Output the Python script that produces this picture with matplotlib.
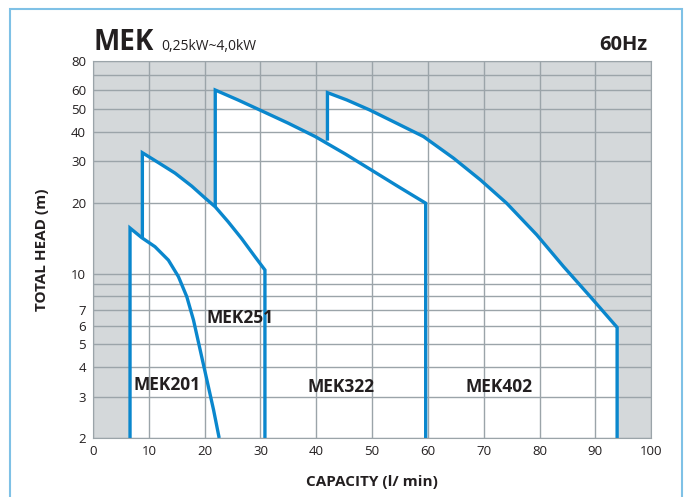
import matplotlib.pyplot as plt
from matplotlib.patches import Rectangle

plt.rcParams["font.family"] = ["Open Sans", "DejaVu Sans"]

# pump curves: capacity (l/min), head (m)
mek201_q = [6.63, 6.63, 8.73, 11.1, 13.5, 15.3, 16.8, 18.0, 19.2, 20.4, 21.6, 22.6]
mek201_h = [2.0, 15.6, 14.2, 13.0, 11.4, 9.7, 7.97, 6.34, 4.73, 3.53, 2.63, 2.0]

mek251_q = [8.84, 8.84, 11.7, 14.7, 17.7, 20.1, 21.9, 24.2, 26.6, 29.0, 30.8, 30.8]
mek251_h = [14.2, 32.6, 29.6, 26.7, 23.5, 20.9, 19.2, 16.6, 14.1, 11.8, 10.35, 2.0]

mek322_q = [21.9, 21.9, 26.0, 29.9, 35.0, 39.8, 45.2, 49.9, 54.7, 59.6, 59.6]
mek322_h = [19.2, 60.2, 54.6, 49.5, 43.5, 38.2, 32.2, 27.5, 23.4, 19.9, 2.0]

mek402_q = [42.0, 42.0, 45.5, 49.6, 54.4, 59.2, 64.6, 69.4, 74.1, 79.5, 84.3,
            89.1, 93.9, 93.9]
mek402_h = [36.7, 58.7, 54.6, 49.5, 43.5, 38.2, 30.9, 25.0, 19.9, 14.6, 10.7,
            7.97, 5.9, 2.0]

models = ["MEK201", "MEK251", "MEK322", "MEK402"]
curves = [(mek201_q, mek201_h), (mek251_q, mek251_h),
          (mek322_q, mek322_h), (mek402_q, mek402_h)]

x_ticks = list(range(0, 101, 10))
y_ticks = [2, 3, 4, 5, 6, 7, 10, 20, 30, 40, 50, 60, 80]
y_grid = [2, 3, 4, 5, 6, 7, 8, 9, 10, 20, 30, 40, 50, 60, 70, 80]

blue = "#0a87cd"
grid_col = "#9ba4a9"
grey = "#d4d8da"
ink = "#231f20"

fig = plt.figure(figsize=(6.84, 4.97), dpi=100)
ax = fig.add_axes([0.136, 0.1187, 0.816, 0.7586])
ax.set_facecolor(grey)
ax.set_yscale("log")
ax.set_xlim(0, 100)
ax.set_ylim(2, 80)

# white area under each curve
for q, h in curves:
    fq = [q[0]] + q[1:] + [q[-1]]
    fh = [2.0] + h[1:] + [2.0]
    ax.fill(fq, fh, color="white", zorder=1, lw=0)

# grid
for y in y_grid:
    ax.axhline(y, color=grid_col, lw=1, zorder=2)
for x in x_ticks:
    ax.axvline(x, color=grid_col, lw=1, zorder=2)

for q, h in curves:
    ax.plot(q, h, color=blue, lw=2.4, zorder=3,
            solid_joinstyle="miter", solid_capstyle="butt")

ax.set_xticks(x_ticks)
ax.set_yticks(y_ticks)
ax.set_yticks([], minor=True)
ax.set_yticklabels([str(t) for t in y_ticks])
ax.tick_params(length=0, labelsize=9.5, pad=5, colors=ink)
for s in ax.spines.values():
    s.set_color(grid_col)
    s.set_zorder(4)

ax.set_xlabel("CAPACITY (l/ min)", fontsize=11, fontweight="bold",
              labelpad=12, color=ink)
ax.set_ylabel("TOTAL HEAD (m)", fontsize=11, fontweight="bold",
              labelpad=16, color=ink)

label_pos = [(13.3, 3.36), (26.3, 6.47), (44.4, 3.31), (72.8, 3.31)]
for name, (lx, ly) in zip(models, label_pos):
    ax.text(lx, ly, name, ha="center", va="center", fontsize=12.5,
            fontweight="bold", color=ink, zorder=5)

fig.text(0.137, 0.9, "MEK", fontsize=20, fontweight="bold",
         color=ink, va="baseline")
fig.text(0.236, 0.9, "0,25kW~4,0kW", fontsize=10, color=ink,
         va="baseline")
fig.text(0.946, 0.9, "60Hz", fontsize=14.5, fontweight="bold",
         color=ink, va="baseline", ha="right")

fig.patches.append(Rectangle((10 / 684, -0.02), 672 / 684, 1.02 - 9 / 497,
                             transform=fig.transFigure, fill=False,
                             edgecolor="#7fc1e6", lw=1.5))

fig.savefig("out.png", dpi=100)
